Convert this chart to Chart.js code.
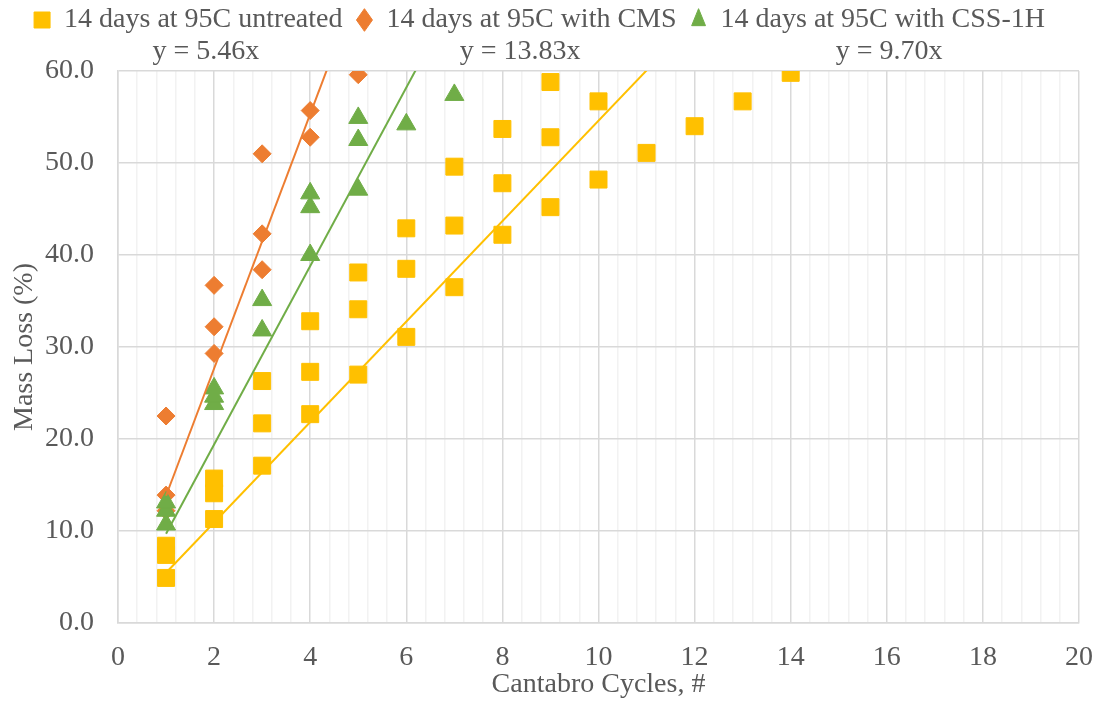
<!DOCTYPE html>
<html lang="en">

<head>
    <meta charset="UTF-8" />
    <title>Cantabro Mass Loss</title>
    <script src="https://cdn.jsdelivr.net/npm/chart.js"></script>
    <style>
        body { margin: 0; background: #fff; }
    </style>
</head>

<body>
    <canvas id="myChart" width="1099" height="712"></canvas>

    <script>
        // series names (legend order)
        const seriesNames = [
            "14 days at 95C untreated",
            "14 days at 95C with CMS",
            "14 days at 95C with CSS-1H",
        ];

        // untreated
        const untreatedX = [1, 1, 1, 2, 2, 2, 3, 3, 3, 4, 4, 4, 5, 5, 5, 6, 6, 6, 7, 7, 7, 8, 8, 8, 9, 9, 9, 10, 10, 11, 12, 13, 14];
        const untreatedY = [4.9, 7.4, 8.4, 11.3, 14.1, 15.7, 17.1, 21.7, 26.3, 22.7, 27.3, 32.8, 27.0, 34.1, 38.1, 31.1, 38.5, 42.9, 36.5, 43.2, 49.6, 42.2, 47.8, 53.7, 45.2, 52.8, 58.8, 48.2, 56.7, 51.1, 54.0, 56.7, 59.8];

        // CMS
        const cmsX = [1, 1, 1, 2, 2, 2, 3, 3, 3, 4, 4, 5];
        const cmsY = [12.2, 13.9, 22.5, 29.3, 32.2, 36.7, 38.4, 42.3, 51.0, 52.8, 55.7, 59.6];

        // CSS-1H
        const cssX = [1, 1, 1, 2, 2, 2, 3, 3, 4, 4, 4, 5, 5, 5, 6, 7];
        const cssY = [10.7, 12.2, 13.1, 23.8, 24.6, 25.5, 31.8, 35.1, 40.0, 45.2, 46.7, 47.1, 52.5, 54.9, 54.2, 57.4];

        // linear trendlines through the origin (untreated, CMS, CSS-1H)
        const slopes = [5.46, 13.83, 9.70];
        // where the equation texts sit, in x units
        const eqAnchorX = [1.83, 8.37, 16.05];

        const colors = ["#FFC000", "#ED7D31", "#70AD47"];
        const shapes = ["rect", "rectRot", "triangle"];
        const radii = [12, 9, 11];
        const xs = [untreatedX, cmsX, cssX];
        const ys = [untreatedY, cmsY, cssY];

        Chart.defaults.font.family = "'Liberation Serif', 'Times New Roman', serif";
        Chart.defaults.font.size = 28;
        Chart.defaults.color = "#595959";

        const toPoints = (xArr, yArr) => xArr.map((x, i) => ({ x: x, y: yArr[i] }));

        const datasets = [];
        seriesNames.forEach((name, i) => {
            datasets.push({
                label: name,
                data: toPoints(xs[i], ys[i]),
                pointStyle: shapes[i],
                pointRadius: radii[i],
                pointHoverRadius: radii[i],
                backgroundColor: colors[i],
                borderColor: colors[i],
                borderWidth: 1,
                order: 3 - i,
            });
        });
        seriesNames.forEach((name, i) => {
            const x0 = Math.min(...xs[i]);
            const x1 = Math.max(...xs[i]);
            datasets.push({
                type: "line",
                label: "trend " + name,
                data: [{ x: x0, y: slopes[i] * x0 }, { x: x1, y: slopes[i] * x1 }],
                borderColor: colors[i],
                borderWidth: 2,
                pointRadius: 0,
                fill: false,
                order: 0,
            });
        });

        const isMajor = (v) => Math.abs(v / 2 - Math.round(v / 2)) < 1e-6;

        // legend box height + nudge it up
        const legendFix = {
            id: "legendFix",
            beforeLayout(chart) {
                const lg = chart.legend;
                if (lg && !lg._fixed) {
                    const fit = lg.fit;
                    lg.fit = function () {
                        fit.call(this);
                        this.height = 71;
                    };
                    lg._fixed = true;
                }
            },
            afterLayout(chart) {
                if (chart.legend) chart.legend.top = -8;
            },
        };

        // trendline equations
        const equations = {
            id: "equations",
            afterDraw(chart) {
                const ctx = chart.ctx;
                const xScale = chart.scales.x;
                ctx.save();
                ctx.font = "28px 'Liberation Serif'";
                ctx.fillStyle = "#595959";
                ctx.textAlign = "center";
                ctx.textBaseline = "middle";
                slopes.forEach((s, i) => {
                    ctx.fillText("y = " + s.toFixed(2) + "x", xScale.getPixelForValue(eqAnchorX[i]), chart.chartArea.top - 19);
                });
                ctx.restore();
            },
        };

        const config = {
            type: "scatter",
            data: { datasets: datasets },
            options: {
                responsive: false,
                animation: false,
                layout: { padding: { left: 0, right: 20, top: 0, bottom: 0 } },
                plugins: {
                    legend: {
                        position: "top",
                        labels: {
                            usePointStyle: true,
                            boxHeight: 16,
                            pointStyleWidth: 16,
                            padding: 14,
                            color: "#595959",
                            filter: (item) => item.datasetIndex < 3,
                            sort: (a, b) => a.datasetIndex - b.datasetIndex,
                        },
                    },
                    tooltip: { enabled: false },
                },
                scales: {
                    x: {
                        type: "linear",
                        min: 0,
                        max: 20,
                        ticks: {
                            stepSize: 0.4,
                            autoSkip: false,
                            maxRotation: 0,
                            padding: 18,
                            callback: (v) => (isMajor(v) ? String(Math.round(v)) : ""),
                        },
                        grid: {
                            drawTicks: false,
                            color: (c) => (isMajor(c.tick.value) ? "#D9D9D9" : "#F2F2F2"),
                            lineWidth: 1.5,
                        },
                        border: { color: "#D9D9D9", width: 1.5 },
                        title: {
                            display: true,
                            text: "Cantabro Cycles, #",
                            padding: { top: 0, bottom: 11 },
                        },
                        afterFit: (scale) => {
                            scale.height = 89;
                            scale.paddingLeft = 0;
                            scale.paddingRight = 0;
                        },
                    },
                    y: {
                        min: 0,
                        max: 60,
                        ticks: {
                            stepSize: 10,
                            padding: 24,
                            callback: (v) => v.toFixed(1),
                        },
                        grid: { drawTicks: false, color: "#D9D9D9", lineWidth: 1.5 },
                        border: { color: "#D9D9D9", width: 1.5 },
                        title: {
                            display: true,
                            text: "Mass Loss (%)",
                            padding: { top: 8, bottom: 0 },
                        },
                        afterFit: (scale) => {
                            scale.width = 118;
                            scale.paddingTop = 0;
                            scale.paddingBottom = 0;
                        },
                    },
                },
            },
            plugins: [legendFix, equations],
        };

        const myChart = new Chart(document.getElementById("myChart"), config);
    </script>
</body>

</html>
